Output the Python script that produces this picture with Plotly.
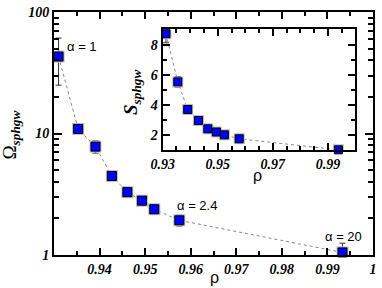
import math
import plotly.graph_objects as go

# ---- data ----
rho = [0.9310, 0.9353, 0.9391, 0.9427, 0.9461, 0.9493, 0.9520, 0.9575, 0.9933]
omega = [43.0, 10.9, 7.8, 4.47, 3.29, 2.80, 2.38, 1.93, 1.05]
omega_err = [18.0, 1.0, 0.9, 0.4, 0.3, 0.25, 0.2, 0.2, 0.2]

rho_in = [0.9312, 0.9355, 0.9391, 0.9430, 0.9464, 0.9495, 0.9524, 0.9578, 0.9938]
s_val = [8.72, 5.53, 3.70, 2.97, 2.42, 2.21, 2.02, 1.76, 1.03]
s_err = [0.6, 0.35, 0.25, 0.12, 0.1, 0.1, 0.08, 0.08, 0.05]

main_xticks = [0.94, 0.95, 0.96, 0.97, 0.98, 0.99, 1.0]
main_xtext = ["0.94", "0.95", "0.96", "0.97", "0.98", "0.99", "1"]
main_yticks = [1, 10, 100]
inset_xticks = [0.93, 0.95, 0.97, 0.99]
inset_yticks = [2, 4, 6, 8]

labels = ["α = 1", "α = 2.4", "α = 20"]
label_x = [0.9361, 0.9614, 0.9935]
label_y = [52, 2.55, 1.42]

BLUE = "#0000ff"
HALO = "#bdbdbd"
tickfont = dict(family="Liberation Serif", size=14, color="black", weight="bold", style="italic")

fig = go.Figure()

# main panel
fig.add_trace(go.Scatter(x=rho, y=omega, mode="lines",
                         line=dict(color="#888888", width=1, dash="dot"),
                         xaxis="x", yaxis="y", hoverinfo="skip"))
fig.add_trace(go.Scatter(x=rho, y=omega, mode="markers",
                         marker=dict(symbol="square", size=12, color=HALO),
                         error_y=dict(type="data", array=omega_err, color="#333333", thickness=1, width=3),
                         xaxis="x", yaxis="y"))
fig.add_trace(go.Scatter(x=rho, y=omega, mode="markers",
                         marker=dict(symbol="square", size=9, color=BLUE, line=dict(color="black", width=1)),
                         xaxis="x", yaxis="y", cliponaxis=False))

# inset
fig.add_trace(go.Scatter(x=rho_in, y=s_val, mode="lines",
                         line=dict(color="#888888", width=1, dash="dot"),
                         xaxis="x2", yaxis="y2", hoverinfo="skip"))
fig.add_trace(go.Scatter(x=rho_in, y=s_val, mode="markers",
                         marker=dict(symbol="square", size=11, color=HALO),
                         error_y=dict(type="data", array=s_err, color="#333333", thickness=1, width=3),
                         xaxis="x2", yaxis="y2"))
fig.add_trace(go.Scatter(x=rho_in, y=s_val, mode="markers",
                         marker=dict(symbol="square", size=8, color=BLUE, line=dict(color="black", width=1)),
                         xaxis="x2", yaxis="y2", cliponaxis=False))

minor_x = [0.93 + 0.005 * i for i in range(15)]
common = dict(ticks="inside", tickwidth=1.5, tickcolor="black", showline=True, linewidth=2,
              linecolor="black", mirror="ticks", showgrid=False, zeroline=False,
              tickfont=tickfont, ticklabeloverflow="allow")
fig.update_layout(
    width=382, height=288,
    margin=dict(l=54, r=5, t=6, b=33),
    paper_bgcolor="white", plot_bgcolor="white",
    showlegend=False,
    xaxis=dict(domain=[0, 1], range=[0.93, 1.0], tickvals=main_xticks, ticktext=main_xtext, ticklen=7,
               minor=dict(tickvals=minor_x, ticks="inside", ticklen=4, tickwidth=1.5, tickcolor="black", showgrid=False),
               **common),
    yaxis=dict(domain=[0, 1], type="log", range=[0, 2], tickvals=main_yticks, ticktext=["1", "10", "100"], ticklen=8,
               minor=dict(tickvals=[2, 3, 4, 5, 6, 7, 8, 9, 20, 30, 40, 50, 60, 70, 80, 90],
                          ticks="inside", ticklen=5, tickwidth=1.5, tickcolor="black", showgrid=False),
               **common),
    xaxis2=dict(domain=[0.3406, 0.945], anchor="y2", range=[0.93, 1.0], tickvals=inset_xticks, ticklen=7,
                minor=dict(tickvals=minor_x, ticks="inside", ticklen=4, tickwidth=1.5, tickcolor="black", showgrid=False),
                **common),
    yaxis2=dict(domain=[0.431, 0.928], anchor="x2", range=[1, 9], tickvals=inset_yticks, ticklen=7,
                minor=dict(tickvals=[1, 3, 5, 7, 9], ticks="inside", ticklen=4, tickwidth=1.5, tickcolor="black", showgrid=False),
                **common),
)

for t, x, y in zip(labels, label_x, label_y):
    fig.add_annotation(x=x, y=math.log10(y), xref="x", yref="y", text=t, showarrow=False,
                       font=dict(family="Liberation Sans", size=13, color="black"))

# axis titles (positions given in pixels, converted to paper fractions below)
titles = [
    (10, 132, "Ω<sub><b><i>sphgw</i></b></sub>", -90, "Liberation Serif", 19),
    (217, 278, "ρ", 0, "Liberation Sans", 16),
    (133, 89, "<b><i>S</i></b><sub><b><i>sphgw</i></b></sub>", -90, "Liberation Serif", 19),
    (260, 174, "ρ", 0, "Liberation Sans", 16),
]
L, R, T, B = 54, 5, 6, 33
W, H = 382 - L - R, 288 - T - B
for px, py, txt, ang, fam, sz in titles:
    fig.add_annotation(x=(px - L) / W, y=(288 - B - py) / H, xref="paper", yref="paper",
                       text=txt, showarrow=False, textangle=ang, xanchor="center", yanchor="middle",
                       font=dict(family=fam, size=sz, color="black"))

fig.write_html("out.html", config={"displayModeBar": False},
               post_script="document.body.style.margin='0';")
